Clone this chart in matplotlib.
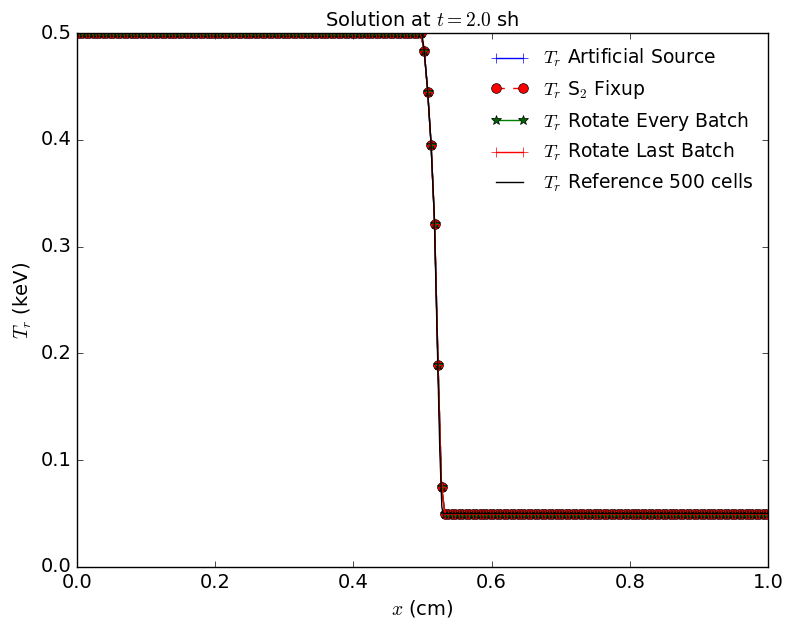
import numpy as np
import matplotlib
matplotlib.use("Agg")
import matplotlib.pyplot as plt

plt.style.use("classic")
plt.rcParams["figure.facecolor"] = "white"
plt.rcParams["savefig.facecolor"] = "white"
plt.rcParams["mathtext.fontset"] = "cm"

# 200-cell mesh on [0, 1]: cell centres
n_cells = 200
x_edges = np.linspace(0.0, 1.0, n_cells + 1)
x_cells = 0.5 * (x_edges[:-1] + x_edges[1:])

# radiation temperature (keV): hot plateau, wave front, cold floor
T_hot = 0.5
T_cold = 0.05
front_values = [0.483, 0.445, 0.395, 0.321, 0.189, 0.075]
n_hot = 100
n_cold = n_cells - n_hot - len(front_values)

T_artificial = [T_hot] * n_hot + front_values + [T_cold] * n_cold
T_s2_fixup = [T_hot] * n_hot + front_values + [T_cold] * n_cold
T_rotate_every = [T_hot] * n_hot + front_values + [T_cold] * n_cold
T_rotate_last = [T_hot] * n_hot + front_values + [T_cold] * n_cold

# 500-cell reference solution (polyline through its profile)
x_ref = [0.0, 0.499, 0.502, 0.507, 0.512, 0.517, 0.521, 0.525, 0.528, 0.530, 1.0]
T_ref = [0.5, 0.5, 0.486, 0.450, 0.400, 0.330, 0.220, 0.110, 0.056, 0.050, 0.050]

fig = plt.figure(figsize=(7.89, 6.23), dpi=100)
ax = fig.add_axes([0.0976, 0.0899, 0.8758, 0.8571])

ax.plot(x_cells, T_artificial, "b-", marker="+", mec="b", ms=7,
        label=r"$T_r$ Artificial Source")
ax.plot(x_cells, T_s2_fixup, "r--", marker="o", mfc="r", mec="k", ms=7,
        label=r"$T_r$ S$_2$ Fixup")
ax.plot(x_cells, T_rotate_every, "g-", marker="*", mfc="darkgreen", mec="k", ms=7,
        label=r"$T_r$ Rotate Every Batch")
ax.plot(x_cells, T_rotate_last, "r-", marker="+", mec="r", ms=7,
        label=r"$T_r$ Rotate Last Batch")
ax.plot(x_ref, T_ref, "k-", label=r"$T_r$ Reference 500 cells")

ax.set_xlim(0.0, 1.0)
ax.set_ylim(0.0, 0.5)
ax.set_xticks([0.0, 0.2, 0.4, 0.6, 0.8, 1.0])
ax.set_yticks([0.0, 0.1, 0.2, 0.3, 0.4, 0.5])
ax.tick_params(labelsize=14)

ax.set_xlabel(r"$x$ (cm)", fontsize=14)
ax.set_ylabel(r"$T_r$ (keV)", fontsize=14)
ax.set_title(r"Solution at $t=2.0$ sh", fontsize=14)

ax.legend(loc="upper right", frameon=False, fontsize=13.5, numpoints=2,
          labelspacing=0.46, borderaxespad=0.35)

fig.savefig("out.png", dpi=100)
